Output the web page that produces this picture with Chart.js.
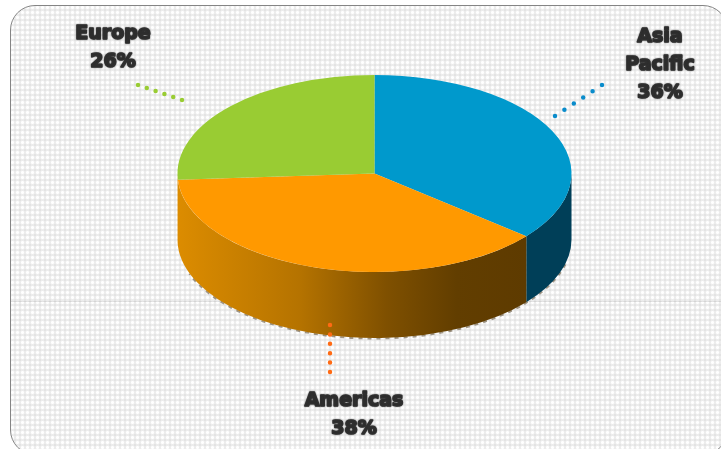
<!DOCTYPE html>
<html>
<head>
<meta charset="utf-8">
<style>
  html, body { margin: 0; padding: 0; background: #fff; overflow: hidden; }
  #wrap { position: relative; width: 721px; height: 449px; overflow: hidden; }
  /* rounded panel with the woven background, runs off the right and bottom of the page */
  #panel {
    position: absolute; left: 10px; top: 5px; width: 716px; height: 448px;
    border: 1.5px solid #858585; border-radius: 25px;
    background-color: #f6f6f6;
    background-image:
      linear-gradient(rgba(0,0,0,.1), rgba(0,0,0,.1)),
      radial-gradient(circle at 1.5px 1.5px, #fff 0 1.1px, transparent 1.6px),
      repeating-linear-gradient(90deg, transparent 0 3px, rgba(0,0,0,.04) 3px 5px),
      repeating-linear-gradient(0deg, transparent 0 3px, rgba(0,0,0,.04) 3px 5px);
    background-size: 100% 1px, 5px 5px, auto, auto;
    background-position: 0 295px, 0 0, 0 0, 0 0;
    background-repeat: no-repeat, repeat, repeat, repeat;
  }
  canvas { position: absolute; left: 0; top: 0; }
</style>
</head>
<body>
<div id="wrap">
  <div id="panel"></div>
  <canvas id="grafico" width="721" height="449"></canvas>
</div>
<script src="https://cdn.jsdelivr.net/npm/chart.js@4/dist/chart.umd.js"></script>
<script>
const categorias = ["Asia Pacific", "Americas", "Europe"];
const valores = [36, 38, 26];
const coloresTapa = ["#0099CC", "#FF9900", "#99CC33"];
const coloresPunto = ["#0A8CCB", "#FF6A13", "#99CC33"];

// layout of the fake 3D pie
const aplastado = 0.5;
const grosor = 66;
const radio = 197;

// label anchors: centre x and baseline of the first line
const etiquetas = [
  { x: 660, y: 42 },
  { x: 354, y: 406 },
  { x: 113, y: 39 },
];
const guias = [
  { desde: [555, 116], hasta: [602, 85] },
  { desde: [330, 325], hasta: [330, 372] },
  { desde: [182, 100], hasta: [138, 85] },
];

// side wall of one slice, only the part facing the viewer
function pintarPared(ctx, arc, fill) {
  const a0 = Math.max(arc.startAngle, 0);
  const a1 = Math.min(arc.endAngle, Math.PI);
  if (a1 <= a0) return;
  const rx = arc.outerRadius;
  const ry = rx * aplastado;
  ctx.beginPath();
  ctx.ellipse(arc.x, arc.y, rx, ry, 0, a0, a1);
  ctx.ellipse(arc.x, arc.y + grosor, rx, ry, 0, a1, a0, true);
  ctx.closePath();
  ctx.fillStyle = fill;
  ctx.fill();
}

const pastel3d = {
  id: "pastel3d",
  beforeDatasetsDraw(chart) {
    const ctx = chart.ctx;
    const arcos = chart.getDatasetMeta(0).data;
    const { x, y, outerRadius } = arcos[0];

    const xCorte = x + outerRadius * Math.cos(arcos[0].endAngle);
    const degradado = ctx.createLinearGradient(x - outerRadius, 0, xCorte, 0);
    degradado.addColorStop(0, "#DC8C00");
    degradado.addColorStop(0.35, "#B57300");
    degradado.addColorStop(0.6, "#7F5000");
    degradado.addColorStop(0.8, "#623E00");
    degradado.addColorStop(1, "#5E3B00");

    ctx.save();
    // rough grey fringe under the wall
    ctx.beginPath();
    ctx.ellipse(x, y + grosor + 0.5, outerRadius, outerRadius * aplastado, 0, 0.25, Math.PI - 0.35);
    ctx.strokeStyle = "rgba(110,95,70,.65)";
    ctx.lineWidth = 2;
    ctx.setLineDash([4, 5]);
    ctx.stroke();
    ctx.setLineDash([]);

    pintarPared(ctx, arcos[0], "#003F58");
    pintarPared(ctx, arcos[1], degradado);
    pintarPared(ctx, arcos[2], "#DC8C00");
    ctx.restore();

    // squash the real arcs into the ellipse
    ctx.save();
    ctx.translate(x, y);
    ctx.scale(1, aplastado);
    ctx.translate(-x, -y);
  },
  afterDatasetsDraw(chart) {
    const ctx = chart.ctx;
    ctx.restore();

    // dotted leaders
    ctx.save();
    guias.forEach((g, i) => {
      const largo = Math.hypot(g.hasta[0] - g.desde[0], g.hasta[1] - g.desde[1]);
      ctx.beginPath();
      ctx.moveTo(g.desde[0], g.desde[1]);
      ctx.lineTo(g.hasta[0], g.hasta[1]);
      ctx.strokeStyle = coloresPunto[i];
      ctx.lineWidth = 4.5;
      ctx.lineCap = "round";
      ctx.setLineDash([0, largo / 5 - 0.001]);
      ctx.stroke();
    });
    ctx.restore();

    // labels, heavy and slightly smeared like the scaled-up original
    ctx.save();
    ctx.font = "bold 19px 'DejaVu Sans'";
    ctx.textAlign = "center";
    ctx.textBaseline = "alphabetic";
    ctx.fillStyle = "#2f2f2f";
    ctx.strokeStyle = "#2f2f2f";
    ctx.lineWidth = 1.6;
    ctx.lineJoin = "round";
    ctx.shadowColor = "rgba(40,40,40,.7)";
    ctx.shadowBlur = 1.5;
    categorias.forEach((cat, i) => {
      const lineas = cat.split(" ").concat(valores[i] + "%");
      lineas.forEach((t, j) => {
        const yy = etiquetas[i].y + j * 28;
        ctx.fillText(t, etiquetas[i].x, yy);
        ctx.strokeText(t, etiquetas[i].x, yy);
      });
    });
    ctx.restore();
  },
};

function inicializarGrafico() {
  const ctx = document.getElementById("grafico").getContext("2d");
  new Chart(ctx, {
    type: "pie",
    data: {
      labels: categorias,
      datasets: [
        {
          data: valores,
          backgroundColor: coloresTapa,
          borderWidth: 0,
          clip: false,
        },
      ],
    },
    options: {
      responsive: false,
      animation: false,
      devicePixelRatio: 1,
      radius: radio,
      layout: { padding: { left: 28, bottom: 102 } },
      plugins: {
        legend: { display: false },
        tooltip: { enabled: false },
      },
    },
    plugins: [pastel3d],
  });
}

window.onload = function () {
  inicializarGrafico();
};
</script>
</body>
</html>
